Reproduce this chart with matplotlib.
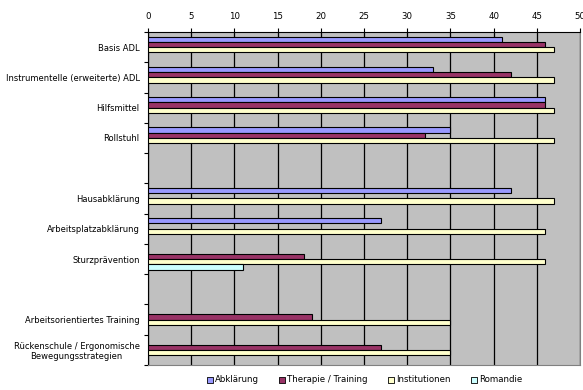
import numpy as np
import matplotlib
matplotlib.use("Agg")
import matplotlib.pyplot as plt

categories = [
    "Basis ADL",
    "Instrumentelle (erweiterte) ADL",
    "Hilfsmittel",
    "Rollstuhl",
    "",
    "Hausabklärung",
    "Arbeitsplatzabklärung",
    "Sturzprävention",
    "",
    "Arbeitsorientiertes Training",
    "Rückenschule / Ergonomische\nBewegungsstrategien",
]
abklaerung = [41, 33, 46, 35, 0, 42, 27, 0, 0, 0, 0]
therapie = [46, 42, 46, 32, 0, 0, 0, 18, 0, 19, 27]
institutionen = [47, 47, 47, 47, 0, 47, 46, 46, 0, 35, 35]
romandie = [0, 0, 0, 0, 0, 0, 0, 11, 0, 0, 0]

series = [
    ("Abklärung", abklaerung, "#9999FF"),
    ("Therapie / Training", therapie, "#993366"),
    ("Institutionen", institutionen, "#FFFFCC"),
    ("Romandie", romandie, "#CCFFFF"),
]

fig = plt.figure(figsize=(5.83, 3.9), dpi=100)
ax = fig.add_axes([0.2539, 0.0641, 0.7410, 0.8539])
ax.set_facecolor("#C0C0C0")

y = np.arange(len(categories))
bar_h = 0.175
for k, (name, vals, col) in enumerate(series):
    vals = np.array(vals, dtype=float)
    off = (k - 1.5) * bar_h
    keep = vals > 0
    ax.barh(y[keep] + off, vals[keep], height=bar_h, color=col,
            edgecolor="black", linewidth=0.8, zorder=3)
    # legend proxy
    ax.scatter([], [], marker="s", s=22, color=col, edgecolor="black",
               linewidth=0.6, label=name)

ax.set_xlim(0, 50)
ax.set_ylim(len(categories) - 0.5, -0.5)
ax.set_xticks(np.arange(0, 51, 5))
ax.xaxis.tick_top()
ax.tick_params(axis="x", which="major", length=3, width=0.8, labelsize=6.2, pad=5)
ax.grid(axis="x", color="black", linewidth=0.9, zorder=1)

ax.set_yticks(y)
ax.set_yticklabels(categories, fontsize=6, ha="right", multialignment="center")
ax.set_yticks(np.arange(-0.5, len(categories)), minor=True)
ax.tick_params(axis="y", which="major", length=0, pad=6)
ax.tick_params(axis="y", which="minor", length=3, width=0.8)

for s in ["left", "top"]:
    ax.spines[s].set_color("black")
    ax.spines[s].set_linewidth(0.8)
for s in ["right", "bottom"]:
    ax.spines[s].set_color("#808080")
    ax.spines[s].set_linewidth(0.8)

ax.legend(loc="center", bbox_to_anchor=(0.5, -0.045), ncol=4, frameon=False,
          fontsize=6.2, handletextpad=0.1, columnspacing=2.2, borderaxespad=0,
          handlelength=1.0)

fig.savefig("out.png", dpi=100)
